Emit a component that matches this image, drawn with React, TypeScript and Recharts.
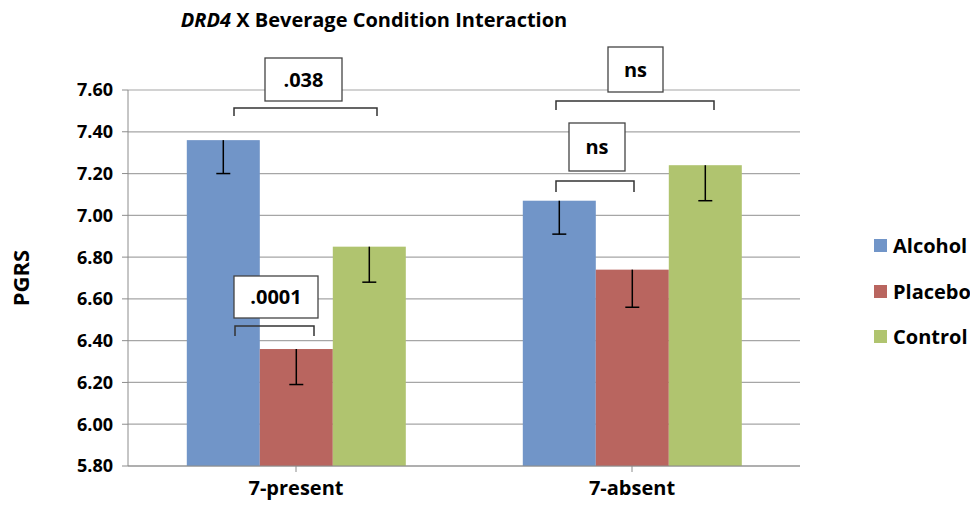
import { Bar, BarChart, CartesianGrid, XAxis, YAxis } from "recharts";

const categories = ["7-present", "7-absent"];
const alcohol = [7.36, 7.07];
const placebo = [6.36, 6.74];
const control = [6.85, 7.24];
const alcoholErr = [0.16, 0.16];
const placeboErr = [0.17, 0.18];
const controlErr = [0.17, 0.17];
const yTicks = [5.8, 6.0, 6.2, 6.4, 6.6, 6.8, 7.0, 7.2, 7.4, 7.6];

const Y_MIN = 5.8;
const Y_MAX = 7.6;
const FONT = "'Open Sans', Lato, sans-serif";

const series = [
  { key: "Alcohol", err: "AlcoholErr", color: "#7195C8" },
  { key: "Placebo", err: "PlaceboErr", color: "#B9655F" },
  { key: "Control", err: "ControlErr", color: "#B0C46F" },
];

const data = categories.map((c, i) => ({
  name: c,
  Alcohol: alcohol[i],
  Placebo: placebo[i],
  Control: control[i],
  AlcoholErr: alcoholErr[i],
  PlaceboErr: placeboErr[i],
  ControlErr: controlErr[i],
}));

// bar + minus-only error bar, scale taken from the rendered bar height
function makeShape(valKey: string, errKey: string) {
  return (props: any) => {
    const { x, y, width, height, fill, payload } = props;
    const v = payload[valKey];
    const pxPerUnit = height / (v - Y_MIN);
    const cx = x + width / 2;
    const y2 = y + payload[errKey] * pxPerUnit;
    return (
      <g>
        <rect x={x} y={y} width={width} height={height} fill={fill} />
        <line x1={cx} y1={y} x2={cx} y2={y2} stroke="#000" strokeWidth={1.5} />
        <line x1={cx - 7} y1={y2} x2={cx + 7} y2={y2} stroke="#000" strokeWidth={1.5} />
      </g>
    );
  };
}

function Bracket({ x1, x2, y, drop }: { x1: number; x2: number; y: number; drop: number }) {
  return (
    <path
      d={`M${x1},${y + drop} L${x1},${y} L${x2},${y} L${x2},${y + drop}`}
      fill="none"
      stroke="#333"
      strokeWidth={1.5}
    />
  );
}

function Box({ x, y, w, h, label }: { x: number; y: number; w: number; h: number; label: string }) {
  return (
    <g>
      <rect x={x} y={y} width={w} height={h} fill="#fff" stroke="#444" strokeWidth={1.3} />
      <text
        x={x + w / 2}
        y={y + h / 2 + 7}
        textAnchor="middle"
        fontFamily={FONT}
        fontWeight={700}
        fontSize={20}
        fill="#000"
      >
        {label}
      </text>
    </g>
  );
}

export default function App() {
  return (
    <div style={{ position: "absolute", left: 0, top: 0, width: 970, height: 509, background: "#fff", overflow: "hidden" }}>
      <BarChart
        width={970}
        height={509}
        data={data}
        margin={{ top: 90, right: 170, left: 68, bottom: 3 }}
        barCategoryGap="17.5%"
        barGap={0}
      >
        <CartesianGrid vertical={false} stroke="#A6A6A6" strokeWidth={1.2} />
        <XAxis
          dataKey="name"
          height={40}
          stroke="#8C8C8C"
          tickSize={6}
          tickMargin={9}
          tick={{ fill: "#000", fontSize: 20, fontWeight: 700, fontFamily: FONT }}
        />
        <YAxis
          width={60}
          domain={[Y_MIN, Y_MAX]}
          ticks={yTicks}
          interval={0}
          stroke="#8C8C8C"
          tickSize={6}
          tickMargin={9}
          tickFormatter={(v: number) => v.toFixed(2)}
          tick={{ fill: "#000", fontSize: 18, fontWeight: 700, fontFamily: FONT }}
          label={(p: any) => {
            const vb = p.viewBox;
            const cy = vb.y + vb.height / 2;
            return (
              <text
                x={29}
                y={cy}
                transform={`rotate(-90, 29, ${cy})`}
                textAnchor="middle"
                fontFamily={FONT}
                fontWeight={700}
                fontSize={22}
                fill="#000"
              >
                PGRS
              </text>
            );
          }}
        />
        {series.map((s) => (
          <Bar
            key={s.key}
            dataKey={s.key}
            fill={s.color}
            isAnimationActive={false}
            shape={makeShape(s.key, s.err)}
          />
        ))}
      </BarChart>
      <div
        style={{
          position: "absolute",
          left: 874,
          top: 223,
          fontFamily: FONT,
          fontWeight: 700,
          fontSize: 20,
          color: "#000",
        }}
      >
        {series.map((s) => (
          <div key={s.key} style={{ display: "flex", alignItems: "center", height: 45.5, whiteSpace: "nowrap" }}>
            <span style={{ width: 13, height: 13, background: s.color, marginRight: 6, display: "inline-block" }} />
            <span>{s.key}</span>
          </div>
        ))}
      </div>
      <svg
        width={970}
        height={509}
        style={{ position: "absolute", left: 0, top: 0, pointerEvents: "none" }}
      >
        <text x={374} y={27} textAnchor="middle" fontFamily={FONT} fontWeight={700} fontSize={20} fill="#000">
          <tspan fontStyle="italic">DRD4</tspan> X Beverage Condition Interaction
        </text>
        <Bracket x1={234} x2={377} y={108} drop={8} />
        <Box x={265} y={58} w={77} h={43} label=".038" />
        <Bracket x1={235} x2={314} y={326} drop={10} />
        <Box x={234} y={276} w={84} h={42} label=".0001" />
        <Bracket x1={556} x2={714} y={101} drop={9} />
        <Box x={608} y={47} w={55} h={45} label="ns" />
        <Bracket x1={556} x2={634} y={181} drop={11} />
        <Box x={569} y={123} w={56} h={48} label="ns" />
      </svg>
    </div>
  );
}
